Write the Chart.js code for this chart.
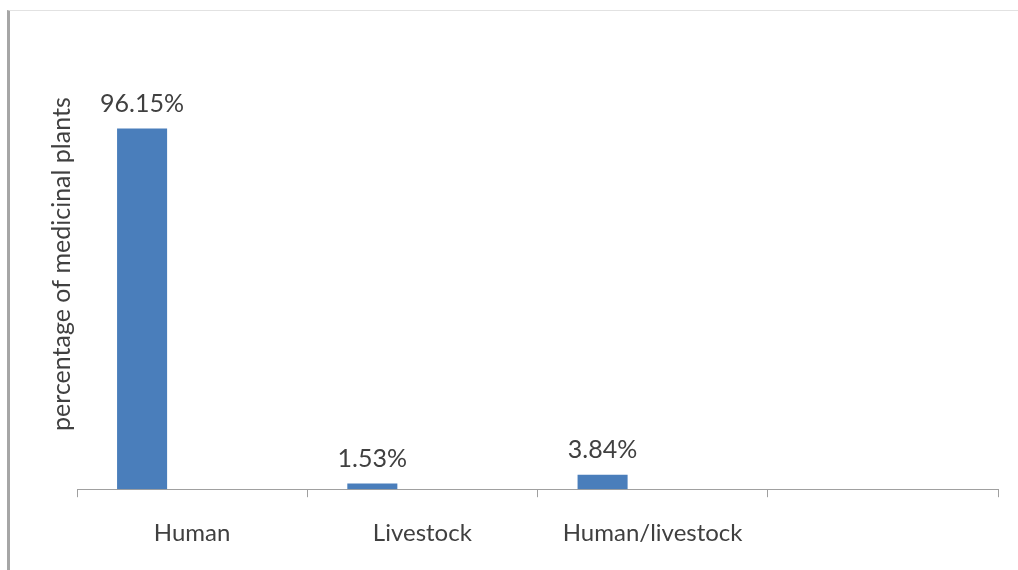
<!DOCTYPE html>
<html>
<head>
<meta charset="utf-8">
<script src="https://cdn.jsdelivr.net/npm/chart.js@4.4.0/dist/chart.umd.min.js"></script>
<style>
  body { margin: 0; background: #fff; }
  #wrap { position: relative; width: 1018px; height: 570px; }
  #frame {
    position: absolute; left: 7px; top: 10px; width: 1008px; height: 570px;
    border-left: 3px solid #a6a6a6; border-top: 1px solid #e2e2e2; border-right: 1px solid #eeeeee;
  }
  #chart { position: absolute; left: 0; top: 0; }
</style>
</head>
<body>
<div id="wrap">
  <div id="frame"></div>
  <canvas id="chart" width="1018" height="570"></canvas>
</div>
<script>
var categories = ['Human', 'Livestock', 'Human/livestock', ''];
var percentValues = [96.15, 1.53, 3.84, null];
var emptySeries = [null, null, null, null];
var yTitle = 'percentage of medicinal plants';

var barLabels = {
  id: 'barLabels',
  afterDatasetsDraw: function(chart) {
    var ctx = chart.ctx;
    var meta = chart.getDatasetMeta(0);
    ctx.save();
    ctx.font = '25px Lato';
    ctx.fillStyle = '#404040';
    ctx.textAlign = 'center';
    ctx.textBaseline = 'middle';
    meta.data.forEach(function(bar, i) {
      if (percentValues[i] == null) return;
      ctx.fillText(percentValues[i].toFixed(2) + '%', bar.x, bar.y - 25);
    });
    ctx.restore();
  }
};

var ctx = document.getElementById('chart').getContext('2d');
var chart = new Chart(ctx, {
  type: 'bar',
  data: {
    labels: categories,
    datasets: [
      { data: percentValues, backgroundColor: '#4a7ebb' },
      { data: emptySeries, backgroundColor: '#c0504d' },
      { data: emptySeries, backgroundColor: '#9bbb59' }
    ]
  },
  options: {
    responsive: false,
    animation: false,
    categoryPercentage: 0.652,
    barPercentage: 1,
    layout: { padding: { left: 47, right: 20, top: 39, bottom: 0 } },
    plugins: { legend: { display: false }, tooltip: { enabled: false } },
    scales: {
      x: {
        grid: { offset: true, drawOnChartArea: false, drawTicks: true, tickLength: 8, color: '#a0a0a0' },
        border: { display: true, color: '#a0a0a0', width: 1 },
        ticks: { color: '#404040', font: { family: 'Lato', size: 24 }, padding: 22 }
      },
      y: {
        min: 0, max: 120,
        grid: { display: false, drawTicks: false },
        border: { display: false },
        ticks: { display: false },
        title: { display: true, text: yTitle, color: '#404040', font: { family: 'Lato', size: 25 }, padding: { top: 0, bottom: 0 } }
      }
    }
  },
  plugins: [barLabels]
});
</script>
</body>
</html>
